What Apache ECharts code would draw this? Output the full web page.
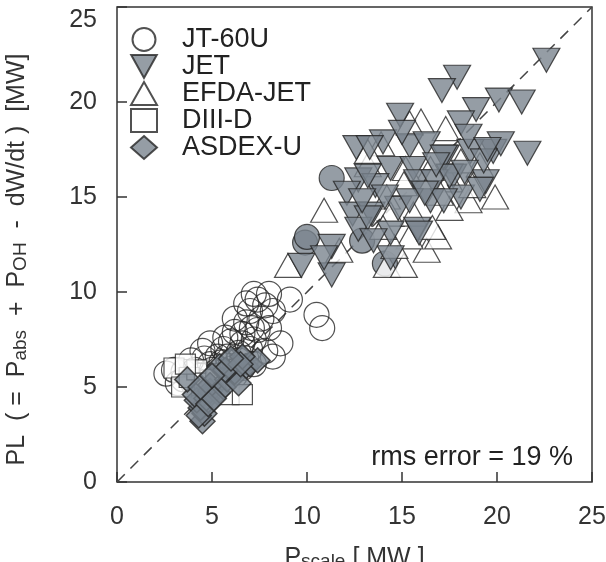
<!DOCTYPE html>
<html><head><meta charset="utf-8">
<script src="https://cdn.jsdelivr.net/npm/echarts@6/dist/echarts.min.js"></script>
<style>html,body{margin:0;padding:0;background:#fff}#c{width:606px;height:562px}</style>
</head><body><div id="c"></div>
<script>
const xTicks = [0, 5, 10, 15, 20, 25];
const yTicks = [0, 5, 10, 15, 20, 25];
const seriesNames = ['JT-60U', 'JET', 'EFDA-JET', 'DIII-D', 'ASDEX-U'];
const rmsText = 'rms error = 19 %';

const jt60u = [
  [2.6,5.7],[3.0,5.9],[3.5,5.8],[3.9,6.4],[4.3,5.3],[3.5,5.4],[4.5,6.9],[4.9,7.3],
  [4.9,6.2],[5.3,6.6],[5.3,5.6],[5.8,6.6],[6.2,5.6],[6.6,6.0],[7.2,6.2],[6.2,7.9],
  [6.6,7.3],[7.2,7.5],[6.8,8.4],[6.2,8.6],[7.0,9.0],[7.2,9.9],[7.4,9.6],[8.0,9.9],
  [8.2,9.0],[9.1,9.6],[10.5,8.8],[10.8,8.1],[8.2,6.6],[8.6,7.3],[8.0,8.1],[7.8,6.9],
  [5.6,7.0],[6.0,6.3],[7.6,8.6],[4.1,5.9],[6.4,6.8],[5.0,5.9],[7.0,7.0],[6.8,9.4],
  [7.8,9.3],[5.7,7.6],[4.6,6.5],[3.2,5.2],[6.0,7.4],[7.4,8.0],[5.5,6.3],[6.1,6.0],
  [6.8,6.5],[4.4,5.6],[5.1,5.3],[5.9,5.8],[6.4,6.4],[4.0,5.2],[6.6,7.8],[7.1,8.1]
];
const jtFilled = [
  [11.3,16.0],[9.9,12.6],[14.1,11.5],[12.9,12.7],[10.0,12.9]
];
const jet = [
  [22.6,22.2],[17.9,21.3],[17.1,20.6],[20.1,20.1],[21.3,20.0],[18.9,19.6],[14.9,19.3],
  [18.1,18.9],[21.6,17.3],[12.6,17.6],[14.0,17.9],[15.4,17.7],[16.3,17.8],[19.8,17.4],
  [20.2,17.8],[18.6,17.4],[17.7,16.1],[19.4,15.8],[14.4,16.5],[15.6,16.5],[12.7,15.9],
  [13.6,15.6],[15.8,15.8],[16.7,15.8],[12.1,15.2],[14.8,14.4],[12.4,14.1],[13.4,14.1],
  [15.8,13.3],[14.4,13.1],[12.7,13.3],[11.3,12.4],[11.3,10.9],[9.7,11.4],[10.9,11.8],
  [14.4,11.8],[18.1,15.0],[19.1,15.4],[16.5,14.8],[15.4,14.8],[18.5,18.2],[19.3,16.9],
  [17.3,17.1],[13.3,17.6],[17.2,17.1],[19.5,17.5],[13.2,16.1],[17.5,16.1],[13.2,13.9],
  [17.2,14.8],[15.9,13.1],[13.5,12.7],[16.2,15.2],[14.1,15.0],[18.3,16.3],[16.8,16.7],
  [15.0,18.4],[12.9,14.8]
];
const efda = [
  [10.9,14.3],[9.0,11.4],[14.2,11.4],[15.1,11.4],[16.3,12.2],[16.9,12.9],[19.9,15.0],
  [18.5,14.8],[17.3,18.6],[16.0,19.0],[13.9,17.8],[15.4,18.9],[14.2,15.0],[14.4,14.1],
  [15.6,14.1],[19.1,16.7],[17.5,15.9],[15.4,12.9],[14.6,12.4],[11.7,12.2],[18.1,16.9],
  [13.2,16.7],[16.5,16.5],[15.2,16.5],[17.5,14.4],[18.7,15.6],[13.2,17.4],[16.6,13.4],
  [15.1,15.7],[17.0,15.2],[14.0,13.4]
];
const diiid = [
  [3.0,6.0],[3.4,5.0],[3.8,5.5],[4.2,5.9],[4.6,5.2],[5.9,4.6],[6.6,4.6],[5.2,5.4],[3.6,6.2]
];
const asdex = [
  [4.5,3.2],[4.6,3.6],[4.4,3.9],[4.2,4.3],[4.7,4.4],[4.9,4.8],[5.3,4.7],[4.9,5.1],
  [4.1,4.6],[3.7,5.4],[5.8,5.4],[6.1,5.5],[6.2,5.8],[6.8,6.1],[7.0,6.2],[7.4,6.4],
  [6.6,6.6],[5.4,6.1],[5.6,5.0],[6.4,5.2],[4.3,3.5],[4.8,4.1],[5.1,4.4],[5.7,5.9],
  [6.5,6.2],[4.4,5.0],[5.0,5.6],[6.0,6.5]
];
const diagonal = [[0,0],[25,25]];

const gray = '#7b858e';
const edge = '#262626';
const font = '"Liberation Sans", Arial, Helvetica, sans-serif';
const invTri = 'path://M0,0 L20,0 L10,18 Z';

const chart = echarts.init(document.getElementById('c'), null, {renderer: 'canvas'});
chart.setOption({
  animation: false,
  backgroundColor: '#fff',
  grid: {left: 117, right: 14, top: 7, bottom: 80, outerBoundsMode: 'none', containLabel: false,
         show: true, borderColor: '#333', borderWidth: 1.5, backgroundColor: 'transparent'},
  legend: {
    data: seriesNames,
    orient: 'vertical', left: 125, top: 21,
    itemWidth: 26, itemHeight: 23, itemGap: 0,
    textStyle: {fontFamily: font, fontSize: 27, lineHeight: 23, color: '#222', padding: [0,0,0,20]},
    inactiveColor: '#ccc'
  },
  xAxis: {
    type: 'value', min: 0, max: 25, interval: 5,
    axisLine: {show: false},
    axisTick: {show: true, inside: true, length: 10, lineStyle: {color: '#333', width: 1.5}},
    splitLine: {show: false},
    axisLabel: {fontFamily: font, fontSize: 25, color: '#333', margin: 23, showMinLabel: true, showMaxLabel: true},
    name: '{m|P}{s|scale}{m| [ MW ]}',
    nameLocation: 'middle', nameGap: 64,
    nameTextStyle: {rich: {m: {fontFamily: font, fontSize: 25, color: '#333'}, s: {fontFamily: font, fontSize: 19, color: '#333', verticalAlign: 'bottom'}}}
  },
  yAxis: {
    type: 'value', min: 0, max: 25, interval: 5,
    axisLine: {show: false},
    axisTick: {show: true, inside: true, length: 10, lineStyle: {color: '#333', width: 1.5}},
    splitLine: {show: false},
    axisLabel: {
      fontFamily: font, fontSize: 25, color: '#333', margin: 20,
      formatter: function (v) { return v === yTicks[yTicks.length - 1] ? '{t|' + v + '}' : String(v); },
      rich: {t: {fontFamily: font, fontSize: 25, color: '#333', padding: [26, 0, 0, 0]}}
    },
    name: '{m|PL  ( =  P}{s|abs}{m|  +  P}{s|OH}{m|  -  dW/dt )  [MW]}',
    nameLocation: 'middle', nameGap: 87, nameRotate: 90,
    nameTextStyle: {padding: [0, 30, 0, 0], rich: {m: {fontFamily: font, fontSize: 25, color: '#333'}, s: {fontFamily: font, fontSize: 19, color: '#333', verticalAlign: 'bottom'}}}
  },
  graphic: [{
    type: 'text', right: 33, top: 444,
    style: {text: rmsText, font: '27px ' + font, fill: '#222'}
  }],
  series: [
    {type: 'line', data: diagonal, showSymbol: false, symbol: 'none', silent: true,
     lineStyle: {color: '#444', width: 1.5, type: [11, 8]}, z: 1},
    {name: 'JT-60U', type: 'scatter', data: jt60u, symbol: 'circle', symbolSize: 25,
     itemStyle: {color: 'rgba(255,255,255,0)', borderColor: edge, borderWidth: 1.2}, z: 2},
    {name: 'DIII-D', type: 'scatter', data: diiid, symbol: 'rect', symbolSize: 20,
     itemStyle: {color: '#fff', borderColor: edge, borderWidth: 1.2}, z: 3},
    {name: 'ASDEX-U', type: 'scatter', data: asdex, symbol: 'diamond', symbolSize: 25,
     itemStyle: {color: gray, borderColor: edge, borderWidth: 1.5}, z: 4},
    {name: 'jt-filled', type: 'scatter', data: jtFilled, symbol: 'circle', symbolSize: 25,
     itemStyle: {color: gray, borderColor: edge, borderWidth: 1.2}, z: 4},
    {name: 'EFDA-JET', type: 'scatter', data: efda, symbol: 'triangle', symbolSize: [27, 24],
     itemStyle: {color: '#fff', borderColor: edge, borderWidth: 1.2}, z: 5},
    {name: 'JET', type: 'scatter', data: jet, symbol: invTri, symbolSize: [27, 24],
     itemStyle: {color: gray, borderColor: edge, borderWidth: 1.2}, z: 6}
  ]
});
</script></body></html>
